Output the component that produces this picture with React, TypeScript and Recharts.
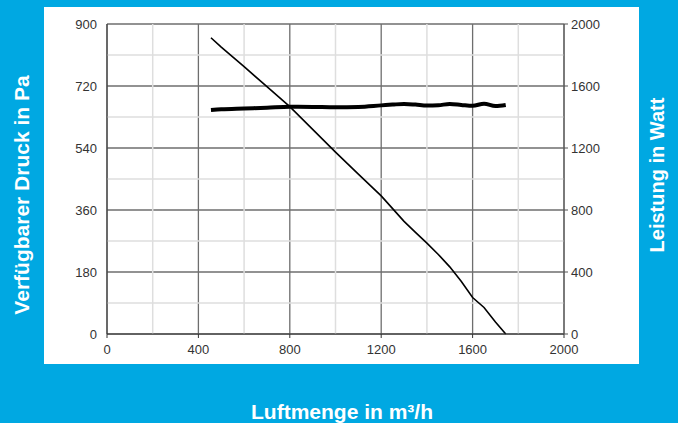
import React from "react";
import {
  CartesianGrid,
  Line,
  LineChart,
  ReferenceLine,
  XAxis,
  YAxis,
} from "recharts";

// Luftmenge (m³/h)
const airflow = [
  455, 500, 600, 700, 800, 900, 1000, 1100, 1200, 1250, 1300, 1350, 1400,
  1450, 1500, 1550, 1600, 1650, 1700, 1745,
];
// verfügbarer Druck (Pa)
const pressure = [
  860, 833, 776, 718, 660, 594, 528, 464, 401, 364, 327, 295, 264, 231, 195,
  153, 106, 77, 35, 0,
];
// Leistung (W)
const power = [
  1445, 1450, 1455, 1460, 1466, 1465, 1463, 1465, 1475, 1480, 1484, 1480,
  1474, 1476, 1484, 1478, 1472, 1486, 1471, 1478,
];

const xTicks = [0, 400, 800, 1200, 1600, 2000];
const pressureTicks = [0, 180, 360, 540, 720, 900];
const powerTicks = [0, 400, 800, 1200, 1600, 2000];
const minorX = [200, 600, 1000, 1400, 1800];
const minorY = [90, 270, 450, 630, 810];

const data = airflow.map((x, i) => ({
  x,
  pressure: pressure[i],
  power: power[i],
}));

const font = "'Liberation Sans', Arial, sans-serif";
const tickStyle = { fontSize: 13, fill: "#333", fontFamily: font };

const titleStyle: React.CSSProperties = {
  position: "absolute",
  color: "#fff",
  fontWeight: "bold",
  fontSize: 21,
  fontFamily: font,
  whiteSpace: "nowrap",
};

export default function App() {
  return (
    <div
      style={{
        position: "fixed",
        left: 0,
        top: 0,
        width: 678,
        height: 423,
        background: "#00a8e2",
        overflow: "hidden",
      }}
    >
      <div
        style={{
          position: "absolute",
          left: 44,
          top: 7,
          width: 595,
          height: 357,
          background: "#fff",
        }}
      />
      <div style={{ position: "absolute", left: 0, top: 0 }}>
        <LineChart
          width={678}
          height={423}
          data={data}
          margin={{ top: 24, right: 54, bottom: 59, left: 47 }}
        >
          {minorX.map((v) => (
            <ReferenceLine
              key={"mx" + v}
              x={v}
              yAxisId="left"
              stroke="#dedede"
              strokeWidth={1.5}
            />
          ))}
          {minorY.map((v) => (
            <ReferenceLine
              key={"my" + v}
              y={v}
              yAxisId="left"
              stroke="#dedede"
              strokeWidth={1.5}
            />
          ))}
          <CartesianGrid yAxisId="left" stroke="#6e6e6e" strokeWidth={1.3} />
          <XAxis
            dataKey="x"
            type="number"
            domain={[0, 2000]}
            ticks={xTicks}
            tick={tickStyle}
            tickSize={4}
            tickMargin={7}
            stroke="#333"
            height={30}
          />
          <YAxis
            yAxisId="left"
            domain={[0, 900]}
            ticks={pressureTicks}
            tick={tickStyle}
            tickLine={false}
            tickSize={4}
            tickMargin={6}
            stroke="#333"
            width={60}
          />
          <YAxis
            yAxisId="right"
            orientation="right"
            domain={[0, 2000]}
            ticks={powerTicks}
            tick={tickStyle}
            tickSize={4}
            tickMargin={3}
            stroke="#555"
            width={60}
          />
          <Line
            yAxisId="left"
            dataKey="pressure"
            type="linear"
            stroke="#000"
            strokeWidth={1.6}
            dot={false}
            isAnimationActive={false}
          />
          <Line
            yAxisId="right"
            dataKey="power"
            type="monotone"
            stroke="#000"
            strokeWidth={4}
            dot={false}
            isAnimationActive={false}
          />
        </LineChart>
      </div>
      <div
        style={{
          ...titleStyle,
          left: 22,
          top: 195,
          transform: "translate(-50%, -50%) rotate(-90deg)",
        }}
      >
        Verfügbarer Druck in Pa
      </div>
      <div
        style={{
          ...titleStyle,
          fontSize: 20,
          left: 657,
          top: 175,
          transform: "translate(-50%, -50%) rotate(-90deg)",
        }}
      >
        Leistung in Watt
      </div>
      <div
        style={{
          ...titleStyle,
          left: 342,
          top: 412,
          transform: "translate(-50%, -50%)",
        }}
      >
        Luftmenge in m³/h
      </div>
    </div>
  );
}
